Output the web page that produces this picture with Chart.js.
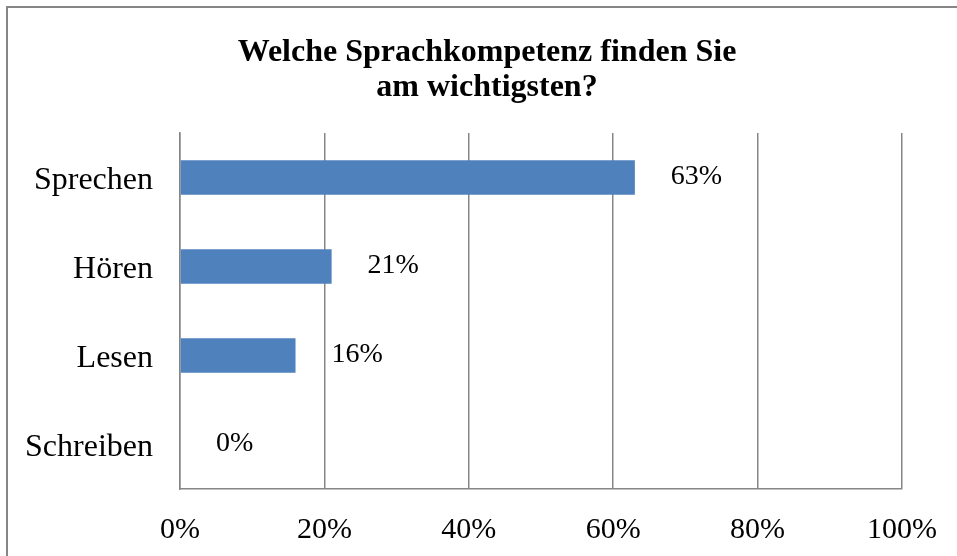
<!DOCTYPE html>
<html>
<head>
<meta charset="utf-8">
<script src="https://cdn.jsdelivr.net/npm/chart.js@4/dist/chart.umd.min.js"></script>
<style>
  html, body { margin: 0; padding: 0; background: #fff; }
  #wrap { width: 957px; height: 556px; position: relative; }
</style>
</head>
<body>
<div id="wrap"><canvas id="c" width="957" height="556"></canvas></div>
<script>
const titleLines = ["Welche Sprachkompetenz finden Sie", "am wichtigsten?"];
const categories = ["Sprechen", "Hören", "Lesen", "Schreiben"];
const values = [63, 21, 16, 0];
const tickValues = [0, 20, 40, 60, 80, 100];

const SERIF = "'Liberation Serif', 'Times New Roman', serif";

const frame = {
  id: 'frame',
  beforeDraw(chart) {
    const ctx = chart.ctx;
    ctx.save();
    ctx.fillStyle = '#ffffff';
    ctx.fillRect(0, 0, chart.width, chart.height);
    ctx.strokeStyle = '#868686';
    ctx.lineWidth = 2;
    ctx.strokeRect(7, 7, chart.width + 10, chart.height + 10);
    ctx.restore();
  }
};

const chartTitle = {
  id: 'chartTitle',
  afterDraw(chart) {
    const ctx = chart.ctx;
    ctx.save();
    ctx.font = 'bold 32px ' + SERIF;
    ctx.fillStyle = '#000';
    ctx.textAlign = 'center';
    ctx.textBaseline = 'middle';
    titleLines.forEach((line, i) => {
      ctx.fillText(line, 487, 52.6 + i * 35.2);
    });
    ctx.restore();
  }
};

const valueLabels = {
  id: 'valueLabels',
  afterDatasetsDraw(chart) {
    const ctx = chart.ctx;
    const meta = chart.getDatasetMeta(0);
    ctx.save();
    ctx.font = '28px ' + SERIF;
    ctx.fillStyle = '#000';
    ctx.textAlign = 'left';
    ctx.textBaseline = 'middle';
    meta.data.forEach((bar, i) => {
      ctx.fillText(values[i] + '%', bar.x + 36, bar.y - 1);
    });
    ctx.restore();
  }
};

new Chart(document.getElementById('c'), {
  type: 'bar',
  data: {
    labels: categories,
    datasets: [{
      data: values,
      backgroundColor: '#4f81bd',
      borderWidth: 0,
      categoryPercentage: 1.0,
      barPercentage: 0.39
    }]
  },
  options: {
    indexAxis: 'y',
    responsive: false,
    animation: false,
    events: [],
    layout: { padding: { left: 0, right: 0, top: 133, bottom: 0 } },
    plugins: {
      legend: { display: false },
      tooltip: { enabled: false },
      title: { display: false }
    },
    scales: {
      x: {
        min: 0,
        max: 100,
        afterBuildTicks(scale) { scale.ticks = tickValues.map(v => ({ value: v })); },
        afterFit(scale) {
          scale.height = 67;
          scale.paddingLeft = 0;
          scale.paddingRight = 55;
        },
        grid: { color: '#868686', lineWidth: 1.5, drawTicks: false },
        border: { display: true, color: '#868686', width: 1.5 },
        ticks: {
          color: '#000',
          padding: 23,
          maxRotation: 0,
          font: { family: SERIF, size: 30 },
          callback: v => v + '%'
        }
      },
      y: {
        afterFit(scale) {
          scale.width = 180;
          scale.paddingTop = 0;
          scale.paddingBottom = 0;
        },
        grid: { display: false, drawTicks: false },
        border: { display: true, color: '#868686', width: 1.5 },
        ticks: {
          color: '#000',
          padding: 27,
          labelOffset: 3,
          font: { family: SERIF, size: 32 }
        }
      }
    }
  },
  plugins: [frame, valueLabels, chartTitle]
});
</script>
</body>
</html>
